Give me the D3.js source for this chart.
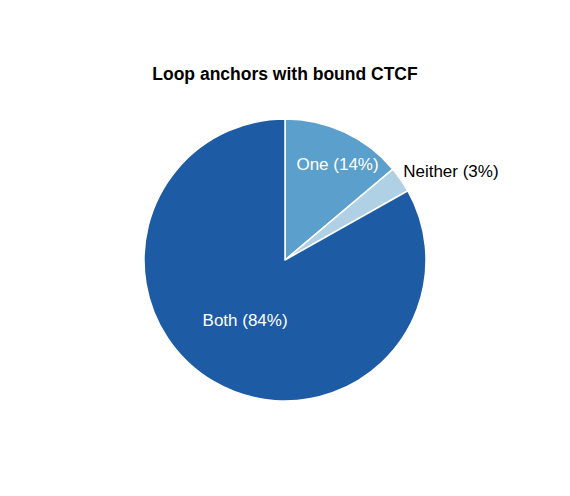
<!DOCTYPE html>
<html>
<head>
<meta charset="utf-8">
<script src="https://cdn.jsdelivr.net/npm/d3@7"></script>
<style>
  html, body { margin: 0; padding: 0; background: #fff; }
  svg { display: block; font-family: "Liberation Sans", Arial, Helvetica, sans-serif; }
</style>
</head>
<body>
<svg id="chart" width="570" height="496"></svg>
<script>
const categories = ["One", "Neither", "Both"];
const values = [14, 3, 84];
const labels = ["One (14%)", "Neither (3%)", "Both (84%)"];
const colors = ["#5b9fcc", "#b0d0e6", "#1e5ba5"];
const title = "Loop anchors with bound CTCF";

const W = 570, H = 496;
const cx = 285, cy = 260, R = 141;

const svg = d3.select("#chart");

svg.append("text")
  .attr("x", cx).attr("y", 80)
  .attr("text-anchor", "middle")
  .attr("font-weight", "bold")
  .attr("font-size", 17.5)
  .attr("fill", "#000")
  .text(title);

const data = categories.map((c, i) => ({ cat: c, value: values[i], label: labels[i], color: colors[i] }));

const pie = d3.pie().value(d => d.value).sort(null);
const arcs = pie(data);
const arc = d3.arc().innerRadius(0).outerRadius(R);

const g = svg.append("g").attr("transform", `translate(${cx},${cy})`);

g.selectAll("path").data(arcs).enter().append("path")
  .attr("d", arc)
  .attr("fill", d => d.data.color)
  .attr("stroke", "#fff")
  .attr("stroke-width", 1.5)
  .attr("stroke-linejoin", "round");

// label placement: fraction of radius and angular shift (radians), anchor, colour
const labelStyle = {
  One:     { r: 0.775, shift: 0.066, anchor: "middle", fill: "#fff" },
  Neither: { r: 1.05,  shift: -0.04, anchor: "start",  fill: "#000" },
  Both:    { r: 0.51,  shift: 0.06,  anchor: "middle", fill: "#fff" }
};

g.selectAll("text.lbl").data(arcs).enter().append("text")
  .attr("class", "lbl")
  .each(function(d) {
    const s = labelStyle[d.data.cat];
    const a = (d.startAngle + d.endAngle) / 2 + s.shift;
    const x = Math.sin(a) * R * s.r;
    const y = -Math.cos(a) * R * s.r;
    d3.select(this)
      .attr("x", x).attr("y", y)
      .attr("dy", "0.36em")
      .attr("text-anchor", s.anchor)
      .attr("fill", s.fill)
      .attr("font-size", 17)
      .text(d.data.label);
  });
</script>
</body>
</html>
